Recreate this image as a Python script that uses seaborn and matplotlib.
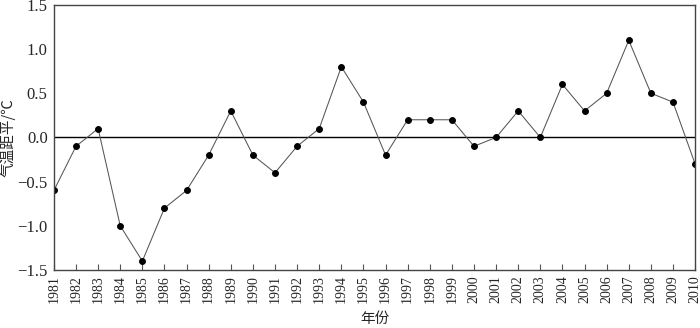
import numpy as np
import pandas as pd
import matplotlib
matplotlib.use("Agg")
import matplotlib.pyplot as plt
import seaborn as sns

# 数据
years = list(range(1981, 2011))
anomaly = [-0.6, -0.1, 0.1, -1.0, -1.4, -0.8, -0.6, -0.2, 0.3, -0.2,
           -0.4, -0.1, 0.1, 0.8, 0.4, -0.2, 0.2, 0.2, 0.2, -0.1,
           0.0, 0.3, 0.0, 0.6, 0.3, 0.5, 1.1, 0.5, 0.4, -0.3]
yticks = [-1.5, -1.0, -0.5, 0.0, 0.5, 1.0, 1.5]

df = pd.DataFrame({"year": years, "anomaly": anomaly})

sns.set_theme(style="ticks")
plt.rcParams['font.family'] = ['Liberation Serif', 'Noto Sans CJK SC', 'DejaVu Sans']
plt.rcParams['axes.unicode_minus'] = True

fig = plt.figure(figsize=(7, 3.28), dpi=100)
ax = fig.add_axes([0.077, 0.177, 0.916, 0.808])

sns.lineplot(data=df, x="year", y="anomaly", ax=ax, color="#555555", linewidth=0.75,
             marker="o", markersize=4.2, markerfacecolor="black", markeredgecolor="black")
ax.axhline(0, color="black", linewidth=1.0, zorder=1)

ax.set_xlim(1981, 2010)
ax.set_ylim(-1.5, 1.5)
ax.set_xticks(years)
ax.set_xticklabels([str(y) for y in years], rotation=90, fontsize=10,
                   family=['Liberation Serif'])
ax.set_yticks(yticks)
ax.set_yticklabels([f"{v:.1f}".replace("-", "\u2212") for v in yticks], fontsize=12,
                   family=['Liberation Serif'])
ax.tick_params(axis="x", direction="in", length=4, width=0.8, color="#555555", pad=4)
ax.tick_params(axis="y", direction="in", length=0, pad=4.5)

for s in ax.spines.values():
    s.set_color("#444444")
    s.set_linewidth(1.0)

ax.set_xlabel("年份", fontsize=10.5, family=['Noto Sans CJK SC'], labelpad=6)
ax.set_ylabel("气温距平/℃", fontsize=10.5, family=['Noto Sans CJK SC'], labelpad=1)

fig.savefig("out.png", dpi=100)
